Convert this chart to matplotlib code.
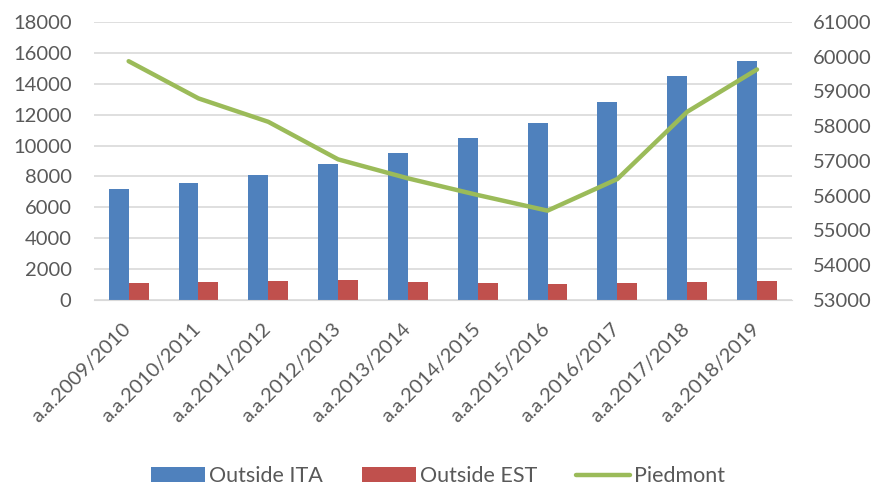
import matplotlib
matplotlib.use("Agg")
import matplotlib.pyplot as plt
import numpy as np

years = ["a.a.2009/2010", "a.a.2010/2011", "a.a.2011/2012", "a.a.2012/2013",
         "a.a.2013/2014", "a.a.2014/2015", "a.a.2015/2016", "a.a.2016/2017",
         "a.a.2017/2018", "a.a.2018/2019"]
outside_ita = [7160, 7550, 8085, 8775, 9490, 10480, 11430, 12790, 14470, 15440]
outside_est = [1120, 1165, 1230, 1295, 1165, 1080, 1035, 1080, 1165, 1230]
piedmont = [59870, 58800, 58126, 57046, 56500, 56020, 55570, 56480, 58414, 59632]

blue = "#4F81BD"
red = "#C0504D"
green = "#9BBB59"
txt = "#595959"
grid = "#D9D9D9"
fs = 14.5

plt.rcParams['font.family'] = ['Lato', 'DejaVu Sans']

fig = plt.figure(figsize=(8.76, 4.87), dpi=100)
ax = fig.add_axes([0.107, 0.384, 0.797, 0.571])
ax2 = ax.twinx()

x = np.arange(len(years))
w = 0.285
b1 = ax.bar(x - w / 2, outside_ita, w, color=blue, label="Outside ITA", zorder=2)
b2 = ax.bar(x + w / 2, outside_est, w, color=red, label="Outside EST", zorder=2)
ln, = ax2.plot(x, piedmont, color=green, lw=3.2, solid_capstyle='round',
               label="Piedmont", zorder=3)

ax.set_xlim(-0.5, len(years) - 0.5)
ax.set_ylim(0, 18000)
ax.set_yticks(range(0, 18001, 2000))
ax2.set_ylim(53000, 61000)
ax2.set_yticks(range(53000, 61001, 1000))

ax.yaxis.grid(True, color=grid, lw=1.2, zorder=0)
ax.set_axisbelow(True)
for a in (ax, ax2):
    for s in a.spines.values():
        s.set_visible(False)
    a.tick_params(length=0, labelsize=fs, colors=txt)
ax.spines['bottom'].set_visible(True)
ax.spines['bottom'].set_color(grid)

ax.set_xticks(x)
ax.set_xticklabels(years, rotation=45, ha='right', va='center',
                   rotation_mode='anchor')
ax.tick_params(axis='x', pad=19)
ax.tick_params(axis='y', pad=16)
ax2.tick_params(axis='y', pad=15)

fig.legend(handles=[b1, b2, ln], loc='center', ncol=3,
           bbox_to_anchor=(0.5, 0.022), frameon=False, fontsize=15.5,
           labelcolor=txt, handlelength=2.5, handletextpad=0.2,
           columnspacing=1.8)

fig.savefig("out.png", dpi=100)
